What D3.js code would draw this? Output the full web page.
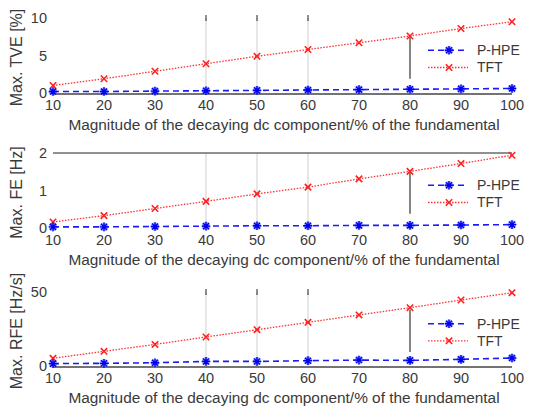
<!DOCTYPE html>
<html>
<head>
<meta charset="utf-8">
<script src="https://cdn.jsdelivr.net/npm/d3@7"></script>
<style>
  body { margin: 0; background: #fff; }
  text { font-family: "Liberation Sans", Arial, sans-serif; fill: #3a3a3a; }
</style>
</head>
<body>
<svg id="chart" width="534" height="415"></svg>
<script>
var magnitudes = [10, 20, 30, 40, 50, 60, 70, 80, 90, 100];
var tveHpe = [0.2, 0.2, 0.25, 0.3, 0.35, 0.4, 0.45, 0.5, 0.55, 0.6];
var tveTft = [1.0, 1.9, 2.9, 3.9, 4.9, 5.8, 6.7, 7.6, 8.6, 9.5];
var feHpe = [0.03, 0.03, 0.04, 0.05, 0.06, 0.06, 0.07, 0.07, 0.08, 0.09];
var feTft = [0.16, 0.33, 0.52, 0.71, 0.91, 1.09, 1.31, 1.51, 1.72, 1.94];
var rfeHpe = [1.6, 1.8, 2.2, 3.1, 3.1, 3.6, 4.0, 3.8, 4.5, 5.4];
var rfeTft = [5.2, 9.9, 14.6, 19.6, 24.5, 29.5, 34.5, 39.4, 44.6, 49.5];
var tveTicks = [0, 5, 10];
var feTicks = [0, 1, 2];
var rfeTicks = [0, 50];
var seriesNames = ["P-HPE", "TFT"];
var xLabel = "Magnitude of the decaying dc component/% of the fundamental";

var svg = d3.select("#chart");
var x = d3.scaleLinear().domain([10, 100]).range([53, 512]);

var panels = [
  { top: 18, bottom: 93, max: 10, ticks: tveTicks, label: "Max. TVE [%]", hpe: tveHpe, tft: tveTft, topLine: false, bottomLine: true },
  { top: 153, bottom: 228, max: 2, ticks: feTicks, label: "Max. FE [Hz]", hpe: feHpe, tft: feTft, topLine: true, bottomLine: false },
  { top: 292, bottom: 366, max: 50, ticks: rfeTicks, label: "Max. RFE [Hz/s]", hpe: rfeHpe, tft: rfeTft, topLine: false, bottomLine: true }
];

var drawCross = function(g, cx, cy) {
  var s = 3.2;
  g.append("path")
    .attr("d", "M" + (cx - s) + "," + (cy - s) + "L" + (cx + s) + "," + (cy + s) +
               "M" + (cx - s) + "," + (cy + s) + "L" + (cx + s) + "," + (cy - s))
    .attr("stroke", "#ff2020").attr("stroke-width", 1.6).attr("fill", "none");
};

var drawStar = function(g, cx, cy) {
  g.append("circle").attr("cx", cx).attr("cy", cy).attr("r", 4.3)
    .attr("fill", "#5a6cff").attr("opacity", 0.55);
  var s = 4.3;
  var d = "";
  [0, 45, 90, 135].forEach(function(a) {
    var r = a * Math.PI / 180;
    d += "M" + (cx - s * Math.cos(r)) + "," + (cy - s * Math.sin(r)) +
         "L" + (cx + s * Math.cos(r)) + "," + (cy + s * Math.sin(r));
  });
  g.append("path").attr("d", d).attr("stroke", "#0000ee").attr("stroke-width", 1.4);
};

panels.forEach(function(p) {
  var y = d3.scaleLinear().domain([0, p.max]).range([p.bottom, p.top]);
  var g = svg.append("g");

  // stray grid lines
  [40, 50, 60].forEach(function(v) {
    g.append("line").attr("x1", x(v)).attr("x2", x(v))
      .attr("y1", p.top).attr("y2", p.bottom)
      .attr("stroke", "#cfcfcf").attr("stroke-width", 1);
    if (!p.topLine) {
      g.append("line").attr("x1", x(v)).attr("x2", x(v))
        .attr("y1", p.top - 3).attr("y2", p.top + 3)
        .attr("stroke", "#222").attr("stroke-width", 1);
    }
  });
  g.append("line").attr("x1", x(80)).attr("x2", x(80))
    .attr("y1", y(p.max * 0.76)).attr("y2", y(p.max * 0.19))
    .attr("stroke", "#333").attr("stroke-width", 1.2);

  if (p.topLine) {
    g.append("line").attr("x1", x(10)).attr("x2", x(100))
      .attr("y1", p.top).attr("y2", p.top)
      .attr("stroke", "#222").attr("stroke-width", 1.2);
  }
  if (p.bottomLine) {
    g.append("line").attr("x1", x(10)).attr("x2", x(100))
      .attr("y1", p.bottom + 1).attr("y2", p.bottom + 1)
      .attr("stroke", "#444").attr("stroke-width", 1.6);
  }

  // y ticks
  g.selectAll(".ytick").data(p.ticks).enter().append("text")
    .attr("x", 47).attr("y", function(d) { return y(d); })
    .attr("dy", "0.35em").attr("text-anchor", "end")
    .attr("font-size", 14.5).text(function(d) { return d; });

  // x ticks
  g.selectAll(".xtick").data(magnitudes).enter().append("text")
    .attr("x", function(d) { return x(d); }).attr("y", p.bottom + 12)
    .attr("dy", "0.35em").attr("text-anchor", "middle")
    .attr("font-size", 14.5).text(function(d) { return d; });

  g.append("text").attr("x", 284).attr("y", p.bottom + 37)
    .attr("dy", "0.35em").attr("dy", "0")
    .attr("text-anchor", "middle").attr("font-size", 15.4).text(xLabel);

  g.append("text")
    .attr("transform", "translate(22," + ((p.top + p.bottom) / 2 + 2) + ") rotate(-90)")
    .attr("text-anchor", "middle").attr("font-size", 16).text(p.label);

  var line = d3.line()
    .x(function(d, i) { return x(magnitudes[i]); })
    .y(function(d) { return y(d); });

  g.append("path").datum(p.tft).attr("d", line).attr("fill", "none")
    .attr("stroke", "#ff3030").attr("stroke-width", 1.3).attr("stroke-dasharray", "1.5,1.5");
  g.append("path").datum(p.hpe).attr("d", line).attr("fill", "none")
    .attr("stroke", "#1a1aff").attr("stroke-width", 1.6).attr("stroke-dasharray", "6,4");

  p.tft.forEach(function(d, i) { drawCross(g, x(magnitudes[i]), y(d)); });
  p.hpe.forEach(function(d, i) { drawStar(g, x(magnitudes[i]), y(d)); });

  // legend
  var ly1 = y(p.max * 0.57), ly2 = y(p.max * 0.34);
  g.append("line").attr("x1", 428).attr("x2", 468).attr("y1", ly1).attr("y2", ly1)
    .attr("stroke", "#1a1aff").attr("stroke-width", 1.6).attr("stroke-dasharray", "6,4");
  drawStar(g, 449, ly1);
  g.append("text").attr("x", 477).attr("y", ly1).attr("dy", "0.35em")
    .attr("font-size", 14).text(seriesNames[0]);
  g.append("line").attr("x1", 428).attr("x2", 468).attr("y1", ly2).attr("y2", ly2)
    .attr("stroke", "#ff3030").attr("stroke-width", 1.3).attr("stroke-dasharray", "1.5,1.5");
  drawCross(g, 449, ly2);
  g.append("text").attr("x", 477).attr("y", ly2).attr("dy", "0.35em")
    .attr("font-size", 14).text(seriesNames[1]);
});
</script>
</body>
</html>
